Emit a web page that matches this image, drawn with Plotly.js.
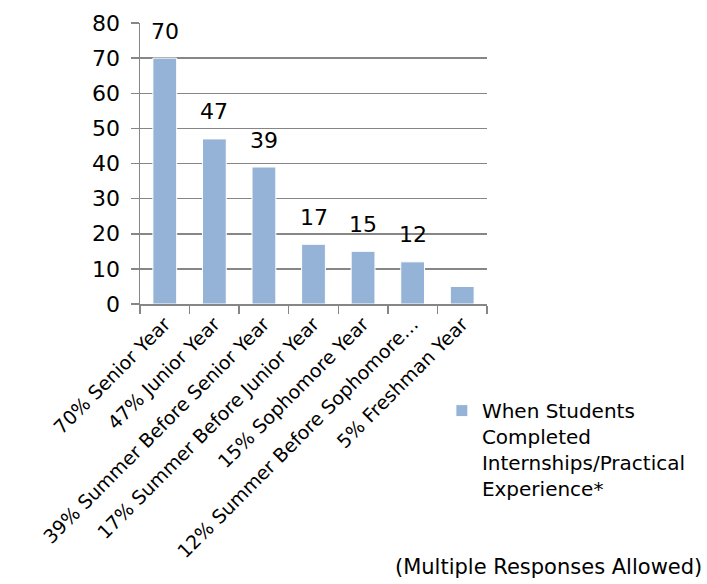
<!DOCTYPE html>
<html>
<head>
<meta charset="utf-8">
<script src="https://cdn.plot.ly/plotly-3.0.1.min.js"></script>
<style>html,body{margin:0;padding:0;background:#fff;}#chart{width:707px;height:584px;}</style>
</head>
<body>
<div id="chart"></div>
<script>
var categories = ["70% Senior Year", "47% Junior Year", "39% Summer Before Senior Year", "17% Summer Before Junior Year", "15% Sophomore Year", "12% Summer Before Sophomore…", "5% Freshman Year"];
var values = [70, 47, 39, 17, 15, 12, 5];
var dataLabels = ["70", "47", "39", "17", "15", "12", ""];
var seriesName = "When Students<br>Completed<br>Internships/Practical<br>Experience*";
var yTicks = [0, 10, 20, 30, 40, 50, 60, 70, 80];

var FONT = "DejaVu Sans, sans-serif";

var annotations = categories.map(function (c, i) {
  return {
    x: c, y: values[i], xref: "x", yref: "y",
    text: dataLabels[i], showarrow: false,
    yanchor: "middle", yshift: 27,
    font: {family: FONT, size: 22, color: "#000"}
  };
}).filter(function (a) { return a.text !== ""; });

annotations.push({
  xref: "paper", yref: "paper", x: 1.625, y: -0.935,
  xanchor: "right", yanchor: "middle",
  text: "(Multiple Responses Allowed)", showarrow: false,
  font: {family: FONT, size: 21, color: "#000"}
});

var trace = {
  type: "bar",
  x: categories,
  y: values,
  name: seriesName,
  showlegend: true,
  marker: {color: "#95B3D7", line: {color: "#ffffff", width: 1}}
};

var layout = {
  width: 707, height: 584,
  margin: {l: 140, r: 220, t: 23, b: 280},
  paper_bgcolor: "#fff", plot_bgcolor: "#fff",
  bargap: 0.52,
  font: {family: FONT, color: "#000"},
  showlegend: true,
  legend: {
    x: 0.87, y: -0.31, xanchor: "left", yanchor: "top",
    valign: "top",
    font: {family: FONT, size: 20, color: "#000"},
    bgcolor: "rgba(0,0,0,0)"
  },
  xaxis: {
    type: "category",
    tickangle: -45,
    tickson: "boundaries",
    ticks: "outside", ticklen: 8, tickcolor: "#868686", tickwidth: 1.5,
    showline: true, linecolor: "#868686", linewidth: 1.5,
    showgrid: false,
    tickfont: {family: FONT, size: 19, color: "#000"},
    automargin: false
  },
  yaxis: {
    range: [0, 80],
    tickvals: yTicks,
    ticktext: yTicks.map(String),
    ticks: "outside", ticklen: 8, tickcolor: "#868686", tickwidth: 1.5,
    showline: true, linecolor: "#868686", linewidth: 1.5,
    showgrid: true, gridcolor: "#868686", gridwidth: 1.5,
    zeroline: false,
    tickfont: {family: FONT, size: 22, color: "#000"},
    ticklabelstandoff: 6,
    automargin: false
  },
  annotations: annotations
};

Plotly.newPlot("chart", [trace], layout, {displayModeBar: false, staticPlot: true});
</script>
</body>
</html>
